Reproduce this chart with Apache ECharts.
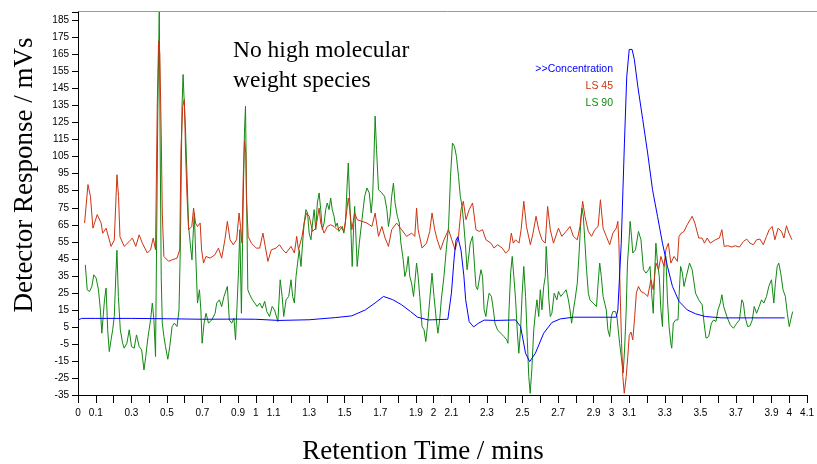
<!DOCTYPE html>
<html>
<head>
<meta charset="utf-8">
<script src="https://cdn.jsdelivr.net/npm/echarts@6/dist/echarts.min.js"></script>
<style>
  html, body { margin: 0; padding: 0; background: #fff; }
  #chart { width: 817px; height: 464px; }
</style>
</head>
<body>
<div id="chart"></div>
<script>
// Retention time (min) / detector response (mV s) pairs for each detector trace
const concentration = [
  [0.0,9],[0.02,10],[0.1,10],[0.3,10],[0.5,9.8],[0.7,9.5],[0.9,9.6],[1.0,9.5],[1.13,8.8],[1.3,9.2],
  [1.45,10.5],[1.54,11.5],[1.616,15],[1.67,19],[1.718,22.9],[1.77,21],[1.82,18],[1.87,14],[1.91,10.7],
  [1.97,9.1],[2.08,9.5],[2.10,24.8],[2.115,45],[2.126,56],[2.136,58],[2.154,50],[2.17,35],[2.18,21],
  [2.2,8],[2.225,5],[2.25,7],[2.284,9],[2.35,8.8],[2.461,9.1],[2.489,5.2],[2.517,-10.5],[2.54,-15.4],
  [2.572,-10.5],[2.619,1.3],[2.665,7.6],[2.712,9.7],[2.786,10.7],[3.027,10.7],[3.036,15],[3.055,54],
  [3.073,113],[3.086,152],[3.1,168],[3.116,168],[3.129,162],[3.148,146.4],[3.176,126.8],[3.2035,107.2],
  [3.231,85.6],[3.259,70],[3.287,54.2],[3.315,40.5],[3.343,28.8],[3.38,20],[3.426,15],[3.473,12.7],
  [3.528,11.1],[3.621,10.3],[3.974,10.3]
];

const ls45 = [
  [0.037,66],[0.056,88.6],[0.07,81.7],[0.084,63],[0.108,71],[0.13,66],[0.139,60],[0.158,63],[0.186,52.3],
  [0.204,56],[0.219,94.4],[0.228,81.7],[0.236,58],[0.26,52.3],[0.288,55.2],[0.306,57.2],[0.325,52.3],
  [0.344,59.1],[0.362,54.2],[0.39,48.4],[0.408,50.3],[0.423,57.2],[0.436,50.3],[0.446,136.6],[0.453,172.9],
  [0.46,166],[0.468,119],[0.474,71.9],[0.483,46.4],[0.51,43.5],[0.529,44.4],[0.557,45.4],[0.572,50.3],
  [0.579,109.1],[0.589,134.6],[0.598,138.6],[0.605,107.2],[0.613,81.7],[0.622,62.1],[0.64,64],[0.65,74.8],
  [0.661,66],[0.672,64],[0.687,66],[0.695,50.3],[0.706,42.5],[0.72,46.4],[0.743,45.4],[0.77,47.4],
  [0.79,51.3],[0.808,45.4],[0.826,56.2],[0.84,67],[0.855,56.2],[0.873,53.3],[0.892,56.2],[0.906,71.9],
  [0.914,64],[0.922,54.2],[0.929,91.5],[0.936,114],[0.944,107.2],[0.947,81.7],[0.957,58.2],[0.975,54.2],
  [1.003,51.3],[1.022,51.3],[1.04,60.1],[1.053,52.3],[1.068,43.5],[1.087,50.3],[1.114,51.3],[1.133,53.3],
  [1.152,50.3],[1.17,48.4],[1.198,52.3],[1.217,48.4],[1.23,58.2],[1.24,50.3],[1.26,58.2],[1.272,66],
  [1.285,71.9],[1.3,70],[1.319,61.1],[1.337,63],[1.356,74.8],[1.365,66],[1.384,60.1],[1.402,64],[1.421,65],
  [1.44,64],[1.458,62.1],[1.477,64],[1.495,61.1],[1.508,70],[1.52,80.7],[1.528,73.9],[1.54,62.1],
  [1.556,71.9],[1.57,68],[1.597,67],[1.625,66],[1.653,64],[1.671,71.9],[1.69,58.2],[1.709,64],[1.727,57.2],
  [1.746,52.3],[1.764,62.1],[1.792,66],[1.82,62.1],[1.848,58.2],[1.876,60.1],[1.894,58.2],[1.904,74.8],
  [1.913,62.1],[1.935,51.3],[1.96,54.2],[1.978,61.1],[1.991,71.9],[2.006,62.1],[2.02,56.2],[2.039,50.3],
  [2.058,56.2],[2.084,62.1],[2.102,56.2],[2.121,50.3],[2.14,58.2],[2.154,73.9],[2.167,78.8],[2.182,68],
  [2.2,73.9],[2.219,77.8],[2.238,62.1],[2.256,61.1],[2.275,62.1],[2.294,56.2],[2.322,54.2],[2.34,51.3],
  [2.359,53.3],[2.386,51.3],[2.405,48.4],[2.424,50.3],[2.437,60.1],[2.448,54.2],[2.461,56.2],[2.48,54.2],
  [2.492,62.1],[2.507,78.8],[2.522,64],[2.544,53.3],[2.559,60.1],[2.576,70],[2.591,62.1],[2.609,56.2],
  [2.628,54.2],[2.641,75.8],[2.656,62.1],[2.674,54.2],[2.702,63],[2.721,58.2],[2.745,61.1],[2.767,64],
  [2.786,58.2],[2.808,56.2],[2.823,64],[2.838,78.8],[2.851,70],[2.87,61.1],[2.888,58.2],[2.906,62.1],
  [2.925,64],[2.938,79.7],[2.953,63],[2.971,58.2],[2.99,53.3],[3.008,60.1],[3.027,63],[3.036,67],
  [3.042,54.2],[3.049,24.8],[3.057,-4.6],[3.064,-24.2],[3.072,-34],[3.083,-24.2],[3.092,-12.4],[3.1,0],
  [3.11,2],[3.12,-2.6],[3.13,10],[3.14,25],[3.152,28.8],[3.166,25.8],[3.185,24.8],[3.204,22.9],[3.222,32.7],
  [3.235,26.8],[3.25,42.5],[3.265,38.6],[3.278,46.4],[3.296,40.5],[3.306,50.3],[3.32,54.2],[3.334,42.5],
  [3.352,46.4],[3.371,43.5],[3.38,58.2],[3.393,60.1],[3.408,61.1],[3.426,65],[3.454,70],[3.469,66],
  [3.491,57.2],[3.51,57.2],[3.523,54.2],[3.538,57.2],[3.556,54.2],[3.584,56.2],[3.607,57.2],[3.621,62.1],
  [3.634,52.3],[3.655,52.7],[3.677,51.9],[3.696,52.7],[3.72,51.9],[3.742,55.2],[3.761,56.6],[3.779,54.2],
  [3.798,53.3],[3.816,56.2],[3.835,56.6],[3.854,53.3],[3.872,58.2],[3.887,62.1],[3.904,64],[3.919,56.2],
  [3.937,63],[3.956,61.1],[3.97,57.2],[3.984,64.4],[3.998,60.1],[4.015,56.2]
];

const ls90 = [
  [0.041,41.5],[0.052,26.8],[0.065,25.8],[0.078,28.8],[0.089,35.6],[0.102,33.7],[0.115,26.8],[0.126,15],
  [0.134,1.3],[0.141,0.3],[0.149,20.9],[0.158,27.8],[0.167,3.3],[0.176,-9.5],[0.186,-2.6],[0.195,3.3],
  [0.204,11.1],[0.214,38.6],[0.219,50],[0.227,22.9],[0.238,3.3],[0.251,-4.6],[0.26,-7.5],[0.275,-4.6],
  [0.288,3.3],[0.301,-6.5],[0.316,-7.5],[0.329,0.3],[0.344,-6.5],[0.358,-8.5],[0.371,-20.3],[0.381,-12.4],
  [0.394,-0.7],[0.408,9.1],[0.418,19],[0.427,9.1],[0.436,-12.4],[0.442,54.2],[0.449,132.7],[0.457,190],
  [0.462,113],[0.468,34.6],[0.474,7.2],[0.483,-0.7],[0.492,-6.5],[0.505,-14],[0.516,-6.5],[0.529,5.2],
  [0.542,7.2],[0.557,5.2],[0.568,15],[0.576,54.2],[0.585,134.6],[0.591,153.3],[0.596,140.5],[0.604,122.9],
  [0.613,93.5],[0.622,64],[0.631,54.2],[0.641,44.4],[0.646,56.2],[0.654,71.9],[0.661,50.3],[0.672,19],
  [0.683,26.8],[0.691,15],[0.698,-4.6],[0.709,7.2],[0.72,13],[0.734,7.2],[0.752,9.1],[0.771,13],[0.78,19],
  [0.795,20.9],[0.808,17],[0.821,22.9],[0.84,28.8],[0.851,9.1],[0.864,7.2],[0.877,10.1],[0.886,-2.6],
  [0.895,19],[0.903,38.6],[0.91,62.1],[0.919,13],[0.929,77.8],[0.936,119],[0.942,134.6],[0.947,89.5],
  [0.955,26.8],[0.966,23.9],[0.981,20.9],[0.994,19],[1.007,17],[1.022,19],[1.036,16],[1.05,20],[1.062,14],
  [1.077,11.1],[1.092,17],[1.105,15],[1.124,8.2],[1.137,32.7],[1.148,22.9],[1.157,11.1],[1.17,20.9],
  [1.185,22.9],[1.198,32.7],[1.207,22.9],[1.217,19],[1.226,34.6],[1.235,42.5],[1.244,50.3],[1.254,40.5],
  [1.263,54.2],[1.272,66],[1.282,73.9],[1.291,71.9],[1.3,60.1],[1.31,56.2],[1.319,66],[1.328,73.9],
  [1.337,62.1],[1.346,77.8],[1.356,83.7],[1.365,73.9],[1.374,62.1],[1.384,66],[1.393,73.9],[1.402,77.8],
  [1.412,73.9],[1.421,80.7],[1.43,73.9],[1.44,70],[1.449,64],[1.458,66],[1.467,61.1],[1.477,60.1],
  [1.486,64],[1.495,60.1],[1.504,66],[1.514,89.5],[1.52,101.3],[1.527,81.7],[1.534,64],[1.542,40.5],
  [1.551,66],[1.556,75.8],[1.57,40.5],[1.582,54.2],[1.597,68],[1.612,81.7],[1.625,86.6],[1.638,83.7],
  [1.649,71.9],[1.657,81.7],[1.664,103.3],[1.671,128.8],[1.679,109.1],[1.69,85.6],[1.709,83.7],
  [1.724,81.7],[1.737,73.9],[1.746,64],[1.755,70],[1.764,81.7],[1.774,89.5],[1.783,77.8],[1.796,70],
  [1.807,66],[1.816,54.2],[1.829,44.4],[1.838,34.6],[1.848,38.6],[1.857,46.4],[1.866,34.6],[1.876,30.7],
  [1.887,22.9],[1.894,30.7],[1.904,42.5],[1.913,34.6],[1.922,22.9],[1.935,5.2],[1.946,3.3],[1.956,-3.6],
  [1.965,5.2],[1.978,20.9],[1.991,36.6],[2.002,22.9],[2.015,9.1],[2.024,1.3],[2.034,9.1],[2.043,20.9],
  [2.058,34.6],[2.071,50.3],[2.084,64],[2.095,93.5],[2.106,113],[2.117,111.1],[2.128,105.2],[2.14,93.5],
  [2.15,81.7],[2.16,75.8],[2.169,66],[2.178,54.2],[2.188,38.6],[2.195,44.4],[2.206,54.2],[2.219,58.2],
  [2.229,42.5],[2.238,28.8],[2.247,26.8],[2.256,25.8],[2.266,38.6],[2.275,34.6],[2.284,15],[2.294,11.1],
  [2.303,19],[2.312,24.8],[2.325,22.9],[2.336,15],[2.345,7.2],[2.359,3.3],[2.377,1.3],[2.396,-0.7],
  [2.411,-2.6],[2.418,-4.6],[2.424,15],[2.433,36.6],[2.442,46.4],[2.451,34.6],[2.461,20.9],[2.47,3.3],
  [2.479,-10.5],[2.489,3.3],[2.498,24.8],[2.507,40.5],[2.517,22.9],[2.526,-0.7],[2.535,-24.2],[2.543,-34],
  [2.552,-20.3],[2.563,3.3],[2.572,13],[2.581,20.9],[2.591,11.1],[2.6,26.8],[2.609,15],[2.619,28.8],
  [2.628,34.6],[2.633,52.3],[2.641,36.6],[2.648,20.9],[2.656,11.1],[2.665,13],[2.678,24.8],[2.693,20.9],
  [2.702,25.8],[2.715,22.9],[2.73,24.8],[2.745,26.8],[2.758,20.9],[2.767,15],[2.776,7.2],[2.786,15],
  [2.795,20.9],[2.808,30.7],[2.819,50.3],[2.827,66],[2.834,74.8],[2.842,70],[2.851,54.2],[2.86,38.6],
  [2.87,24.8],[2.879,20.9],[2.897,19],[2.916,17],[2.925,30.7],[2.934,42.5],[2.943,34.6],[2.953,22.9],
  [2.962,19],[2.971,15],[2.98,3.3],[2.99,-0.7],[2.999,11.1],[3.008,14],[3.023,14],[3.031,11.1],[3.038,3.3],
  [3.046,-4.6],[3.055,-12.4],[3.066,-22],[3.074,-8],[3.083,15],[3.09,42.5],[3.098,54.2],[3.105,67],
  [3.113,58],[3.12,48.4],[3.135,50.3],[3.152,61.1],[3.166,56.2],[3.18,38.6],[3.194,36.6],[3.209,38.6],
  [3.217,40.5],[3.226,24.8],[3.235,13],[3.243,36.6],[3.25,54.2],[3.259,42.5],[3.269,34.6],[3.278,15],
  [3.287,5.2],[3.296,42.5],[3.306,46.4],[3.315,20.9],[3.324,5.2],[3.334,-4.6],[3.339,-7.5],[3.348,7.2],
  [3.361,9.1],[3.374,9.1],[3.38,22.9],[3.389,40.5],[3.399,36.6],[3.408,28.8],[3.421,34.6],[3.439,42.5],
  [3.454,38.6],[3.473,24.8],[3.491,20.9],[3.51,18],[3.521,7.2],[3.532,-1.6],[3.547,-0.7],[3.562,7.2],
  [3.575,9.1],[3.588,8.2],[3.599,15],[3.612,19],[3.621,23.9],[3.631,17],[3.649,11.1],[3.668,6.2],
  [3.686,4.2],[3.705,7.2],[3.72,9.1],[3.733,20.9],[3.742,19],[3.751,11.1],[3.766,5.2],[3.779,5.6],
  [3.792,9.1],[3.803,17],[3.816,13],[3.831,17],[3.844,20.9],[3.857,19],[3.872,22.9],[3.885,28.8],
  [3.9,32.7],[3.913,19],[3.922,30.7],[3.932,40.5],[3.941,42.5],[3.952,36.6],[3.965,26.8],[3.978,22.9],
  [3.989,13],[4.0,5.2],[4.008,9.1],[4.019,14]
];

const seriesNames = ['>>Concentration', 'LS 45', 'LS 90'];
const seriesColors = ['#0000ff', '#cc3311', '#118811'];
const noteLines = ['No high molecular', 'weight species'];
const xTitle = 'Retention Time / mins';
const yTitle = 'Detector Response / mVs';

const chart = echarts.init(document.getElementById('chart'), null, { renderer: 'canvas' });

const tickFont = { fontFamily: 'Liberation Sans, Arial, sans-serif', fontSize: 10, color: '#000' };
const serifFont = '"Liberation Serif", "Times New Roman", serif';

function lineSeries(name, data, color) {
  return {
    name: name,
    type: 'line',
    data: data,
    showSymbol: false,
    symbol: 'none',
    smooth: false,
    animation: false,
    lineStyle: { color: color, width: 1 },
    itemStyle: { color: color },
    clip: true
  };
}

function legendText(i, y) {
  return {
    type: 'text', x: 613, y: y,
    style: {
      text: seriesNames[i],
      font: '10.5px "Liberation Sans", Arial, sans-serif',
      fill: seriesColors[i], align: 'right', verticalAlign: 'middle'
    }
  };
}

chart.setOption({
  backgroundColor: '#ffffff',
  animation: false,
  grid: { left: 78, right: 3, top: 12, bottom: 69, containLabel: false },
  xAxis: {
    type: 'value',
    min: 0,
    max: 4.1,
    interval: 0.1,
    axisLine: { show: true, onZero: false, lineStyle: { color: '#000', width: 1 } },
    axisTick: { show: true, inside: false, length: 8, lineStyle: { color: '#000' } },
    axisLabel: {
      ...tickFont,
      margin: 13,
      showMinLabel: true,
      showMaxLabel: true,
      hideOverlap: false,
      formatter: function (v) {
        const k = Math.round(v * 10);
        if (k % 10 === 0) return String(k / 10);
        if (k % 2 === 1) return (k / 10).toFixed(1);
        return '';
      }
    },
    splitLine: { show: false }
  },
  yAxis: {
    type: 'value',
    min: -35,
    max: 190,
    interval: 10,
    axisLine: { show: true, onZero: false, lineStyle: { color: '#000', width: 1 } },
    axisTick: { show: true, inside: false, length: 6, lineStyle: { color: '#000' } },
    axisLabel: {
      ...tickFont,
      margin: 9,
      formatter: function (v) {
        const r = Math.round(v);
        return ((r + 35) % 10 === 0 && r <= 185) ? String(r) : '';
      }
    },
    splitLine: { show: false }
  },
  series: [
    lineSeries(seriesNames[2], ls90, seriesColors[2]),
    lineSeries(seriesNames[1], ls45, seriesColors[1]),
    lineSeries(seriesNames[0], concentration, seriesColors[0])
  ],
  graphic: [
    {
      type: 'line',
      shape: { x1: 78, y1: 11.5, x2: 817, y2: 11.5 },
      style: { stroke: '#999999', lineWidth: 1 },
      silent: true
    },
    {
      type: 'text', left: 233, top: 36,
      style: { text: noteLines.join('\n'), font: '23.5px ' + serifFont, fill: '#000', lineHeight: 30 }
    },
    {
      type: 'text', x: 423, y: 452,
      style: { text: xTitle, font: '27px ' + serifFont, fill: '#000', align: 'center', verticalAlign: 'middle' }
    },
    {
      type: 'text', x: 25, y: 175, rotation: Math.PI / 2,
      style: { text: yTitle, font: '27px ' + serifFont, fill: '#000', align: 'center', verticalAlign: 'middle' }
    },
    legendText(0, 69),
    legendText(1, 86),
    legendText(2, 103)
  ]
});
</script>
</body>
</html>
